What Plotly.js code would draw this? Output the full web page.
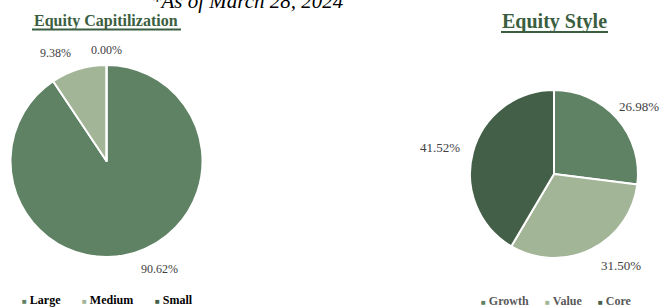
<!DOCTYPE html>
<html>
<head>
<meta charset="utf-8">
<script src="https://cdn.plot.ly/plotly-3.0.1.min.js"></script>
<style>html,body{margin:0;padding:0;background:#fff}#chart{width:671px;height:307px}</style>
</head>
<body>
<div id="chart"></div>
<script>
// ---- data ----
const capLabels = ["Large", "Medium", "Small"];
const capValues = [90.62, 9.38, 0.00];
const styleLabels = ["Growth", "Value", "Core"];
const styleValues = [26.98, 31.50, 41.52];
const capTitle = "Equity Capitilization";
const styleTitle = "Equity Style";
const asOfNote = "*As of March 28, 2024";

// ---- styling ----
const capColors = ["#5f8264", "#a3b597", "#445f48"];
const styleColors = ["#5f8264", "#a3b597", "#445f48"];
const W = 671, H = 307;
const FONT = "Liberation Serif, Times New Roman, serif";
const titleColor = "#3b5e40";

// pie geometry in pixels (layout)
const capPie = {cx: 106.5, cy: 161, r: 96, adj: [-9.5, -8.5, 0], dist: [120, 120, 111], size: 12};
const stylePie = {cx: 554, cy: 174, r: 84, adj: [3, -10, -2], dist: [108, 113, 117], size: 13};

const px = x => x / W;
const py = y => 1 - y / H;

function domainOf(p) {
  return {x: [px(p.cx - p.r), px(p.cx + p.r)], y: [py(p.cy + p.r), py(p.cy - p.r)]};
}

function pieTrace(labels, values, colors, p) {
  return {
    type: "pie", labels: labels, values: values, sort: false,
    direction: "clockwise", rotation: 0, textinfo: "none",
    marker: {colors: colors, line: {color: "#ffffff", width: 2}},
    domain: domainOf(p), showlegend: false, hoverinfo: "label+percent"
  };
}

function labelAnnotations(values, p) {
  const total = values.reduce((a, b) => a + b, 0);
  let cum = 0;
  const out = [];
  values.forEach((v, i) => {
    const mid = (cum + v / 2) / total * 360;
    cum += v;
    const a = (mid + p.adj[i]) * Math.PI / 180;
    const x = p.cx + p.dist[i] * Math.sin(a);
    const y = p.cy - p.dist[i] * Math.cos(a);
    out.push({
      xref: "paper", yref: "paper", x: px(x), y: py(y),
      xanchor: "center", yanchor: "middle", showarrow: false,
      text: v.toFixed(2) + "%",
      font: {family: FONT, size: p.size, color: "#404040"}
    });
  });
  return out;
}

function legendAnnotations(labels, colors, xs, y, color) {
  return labels.map((l, i) => ({
    xref: "paper", yref: "paper", x: px(xs[i]), y: py(y),
    xanchor: "left", yanchor: "middle", showarrow: false,
    text: '<span style="font-size:8px;color:' + colors[i] + '">■</span> <b>' + l + '</b>',
    font: {family: FONT, size: 12, color: color}
  }));
}

const annotations = [
  {xref: "paper", yref: "paper", x: px(247), y: py(1), xanchor: "center", yanchor: "middle",
   showarrow: false, text: "<i>" + asOfNote + "</i>", font: {family: FONT, size: 21, color: "#000"}},
  {xref: "paper", yref: "paper", x: px(106), y: py(21), xanchor: "center", yanchor: "middle",
   showarrow: false, text: "<b>" + capTitle + "</b>", font: {family: FONT, size: 16, color: titleColor}},
  {xref: "paper", yref: "paper", x: px(554), y: py(21), xanchor: "center", yanchor: "middle",
   showarrow: false, text: "<b>" + styleTitle + "</b>", font: {family: FONT, size: 20, color: titleColor}},
  ...labelAnnotations(capValues, capPie),
  ...labelAnnotations(styleValues, stylePie),
  ...legendAnnotations(capLabels, capColors, [20, 80, 153], 300, "#000000"),
  ...legendAnnotations(styleLabels, styleColors, [479, 543, 596], 300.5, "#595959")
];

const shapes = [
  {type: "line", xref: "paper", yref: "paper", x0: px(32), x1: px(181), y0: py(29.5), y1: py(29.5),
   line: {color: titleColor, width: 2}},
  {type: "line", xref: "paper", yref: "paper", x0: px(501), x1: px(608), y0: py(32), y1: py(32),
   line: {color: titleColor, width: 2}}
];

const layout = {
  width: W, height: H, margin: {l: 0, r: 0, t: 0, b: 0},
  paper_bgcolor: "#ffffff", plot_bgcolor: "#ffffff",
  showlegend: false, annotations: annotations, shapes: shapes,
  font: {family: FONT}
};

Plotly.newPlot("chart", [
  pieTrace(capLabels, capValues, capColors, capPie),
  pieTrace(styleLabels, styleValues, styleColors, stylePie)
], layout, {staticPlot: true, displayModeBar: false});
</script>
</body>
</html>
